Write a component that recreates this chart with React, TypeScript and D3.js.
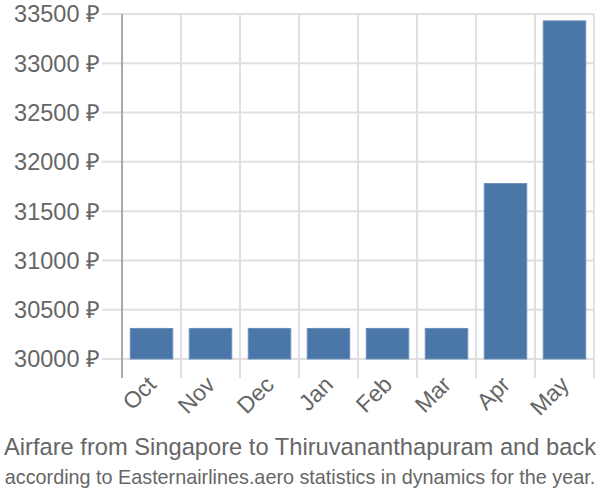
import React from "react";
import * as d3 from "d3";

const categories = ["Oct", "Nov", "Dec", "Jan", "Feb", "Mar", "Apr", "May"];
const prices = [30310, 30310, 30310, 30310, 30310, 30310, 31780, 33430];
const yTicks = [30000, 30500, 31000, 31500, 32000, 32500, 33000, 33500];
const titleText = "Airfare from Singapore to Thiruvananthapuram and back";
const subtitleText = "according to Easternairlines.aero statistics in dynamics for the year.";

export default function App() {
  const W = 600, H = 500;
  const left = 122, right = 594, top = 14, bottom = 359;
  const x = d3.scaleBand<string>().domain(categories).range([left, right]).paddingInner(0.28).paddingOuter(0.14);
  const xb = d3.scaleBand<string>().domain(categories).range([left, right]);
  const y = d3.scaleLinear().domain([30000, 33500]).range([bottom, top]);
  const font = "'Liberation Sans', Arial, sans-serif";
  return (
    <svg width={W} height={H} style={{ position: "absolute", left: 0, top: 0 }} fontFamily={font}>
      <rect width={W} height={H} fill="#fff" />
      {yTicks.map((t) => (
        <g key={t}>
          <line x1={102} x2={right} y1={y(t)} y2={y(t)} stroke="#e0e0e0" strokeWidth={2} />
          <text x={100} y={y(t)} dy="0.36em" textAnchor="end" fontSize={23.5} fill="#666">
            {t} ₽
          </text>
        </g>
      ))}
      {categories.map((c) => (
        <line key={c} x1={xb(c)! + xb.bandwidth()} x2={xb(c)! + xb.bandwidth()} y1={top} y2={378} stroke="#e0e0e0" strokeWidth={2} />
      ))}
      <line x1={left} x2={left} y1={top} y2={378} stroke="#aaa" strokeWidth={2} />
      {categories.map((c, i) => (
        <rect key={c} x={x(c)} y={y(prices[i])} width={x.bandwidth()} height={bottom - y(prices[i])} fill="#4a76a8" stroke="#6a8fb8" strokeWidth={1} />
      ))}
      {categories.map((c) => {
        const cx = xb(c)! + xb.bandwidth() / 2 + 6;
        const cy = 386;
        return (
          <text key={c} x={cx} y={cy} textAnchor="end" fontSize={23} fill="#666" transform={`rotate(-45 ${cx} ${cy})`}>
            {c}
          </text>
        );
      })}
      <text x={300} y={455} textAnchor="middle" fontSize={23.7} fill="#666">{titleText}</text>
      <text x={300} y={484} textAnchor="middle" fontSize={19.8} fill="#666">{subtitleText}</text>
    </svg>
  );
}
